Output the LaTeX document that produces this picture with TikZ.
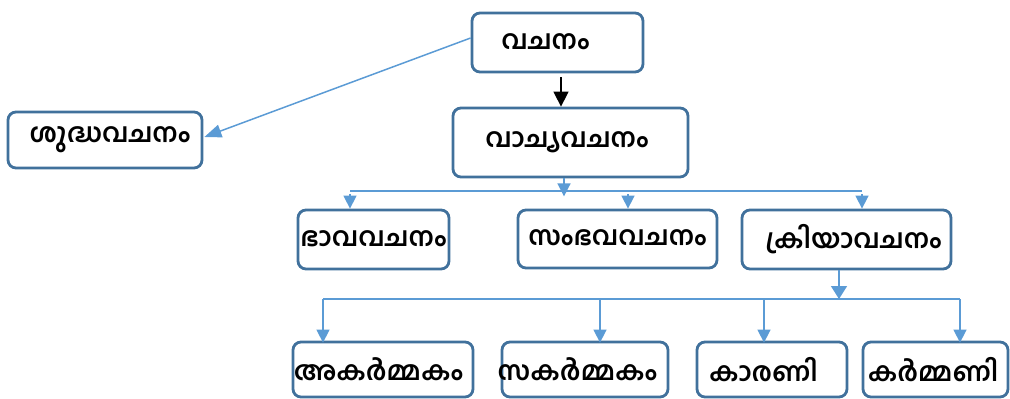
\documentclass[tikz,border=0pt]{standalone}
\usepackage{fontspec}
\usetikzlibrary{arrows.meta}
\newfontfamily\mlfont[Script=Malayalam]{Hind Kochi}
\definecolor{boxline}{HTML}{41719C}
\definecolor{linkblue}{HTML}{5B9BD5}
% set a label off the box centre by #1 without changing its width
\newcommand\txshift[2]{\hspace*{#1}#2\hspace*{-#1}}
\begin{document}
\begin{tikzpicture}[x=1pt,y=-1pt,
  box/.style={draw=boxline,line width=2.8pt,rounded corners=8pt,fill=white,
    inner sep=0pt,font=\mlfont\bfseries\fontsize{26.5}{30}\selectfont},
  link/.style={draw=linkblue,line width=1.5pt,-{Triangle[width=13pt,length=13pt]}},
  bus/.style={draw=linkblue,line width=1.5pt},
  darklink/.style={draw=black,line width=1.5pt,-{Triangle[width=15pt,length=15pt]}}]
\useasboundingbox (0,0) rectangle (1010,399);
% boxes
\node[box,minimum width=171pt,minimum height=59pt] (top) at (557.5,42.5) {\raisebox{2pt}{\txshift{-12pt}{വചനം}}};
\node[box,minimum width=194pt,minimum height=56pt] (shud) at (105,140) {\txshift{5pt}{ശുദ്ധവചനം}};
\node[box,minimum width=235pt,minimum height=69pt] (vachya) at (570.5,142.5) {\raisebox{4pt}{\txshift{-3.5pt}{വാച്യവചനം}}};
\node[box,minimum width=151pt,minimum height=59pt] (bhava) at (373.5,239.5) {\raisebox{2pt}{ഭാവവചനം}};
\node[box,minimum width=199pt,minimum height=58pt] (sambhava) at (617.5,239) {\raisebox{2pt}{സംഭവവചനം}};
\node[box,minimum width=209pt,minimum height=59pt] (kriya) at (846.5,239.5) {\raisebox{2pt}{\txshift{7pt}{ക്രിയാവചനം}}};
\node[box,minimum width=180pt,minimum height=55pt] (akarm) at (383,369.5) {\txshift{-4.5pt}{അകർമ്മകം}};
\node[box,minimum width=166pt,minimum height=55pt] (sakarm) at (585,369.5) {\txshift{-7.5pt}{സകർമ്മകം}};
\node[box,minimum width=150pt,minimum height=55pt] (karani) at (772,369.5) {\txshift{-8.5pt}{കാരണി}};
\node[box,minimum width=145pt,minimum height=55pt] (karmani) at (935.5,369.5) {\txshift{-2.5pt}{കർമ്മണി}};
% bus lines
\coordinate (busA) at (0,191);
\coordinate (busB) at (0,299);
% top level links
\draw[link,-{Triangle[width=13pt,length=17pt]}] ([yshift=4.5pt]top.west) -- ([xshift=1pt,yshift=3pt]shud.east);
\draw[darklink] ([xshift=3.5pt,yshift=-4pt]top.south) -- ([xshift=-9.5pt]vachya.north);
% first branching
\draw[link] ([xshift=-6.5pt]vachya.south) -- ++(0,18);
\draw[bus] ([xshift=-23.5pt]bhava.north |- busA) -- ([xshift=15.5pt]kriya.north |- busA);
\draw[link] ([xshift=-23.5pt,yshift=-3pt]bhava.north |- busA) -- ([xshift=-23.5pt]bhava.north);
\draw[link] ([xshift=10.5pt,yshift=-3pt]sambhava.north |- busA) -- ([xshift=10.5pt]sambhava.north);
\draw[link] ([xshift=15.5pt,yshift=-3pt]kriya.north |- busA) -- ([xshift=15.5pt]kriya.north);
% second branching
\draw[link,-{Triangle[width=16pt,length=13pt]}] ([xshift=-7.5pt]kriya.south) -- ([xshift=-7.5pt]kriya.south |- busB);
\draw[bus] ([xshift=-60pt]akarm.north |- busB) -- ([xshift=24.5pt]karmani.north |- busB);
\draw[link] ([xshift=-60pt]akarm.north |- busB) -- ([xshift=-60pt,yshift=-2pt]akarm.north);
\draw[link] ([xshift=15pt]sakarm.north |- busB) -- ([xshift=15pt,yshift=-2pt]sakarm.north);
\draw[link] ([xshift=-8pt]karani.north |- busB) -- ([xshift=-8pt,yshift=-2pt]karani.north);
\draw[link] ([xshift=24.5pt]karmani.north |- busB) -- ([xshift=24.5pt,yshift=-2pt]karmani.north);
\end{tikzpicture}
\end{document}
